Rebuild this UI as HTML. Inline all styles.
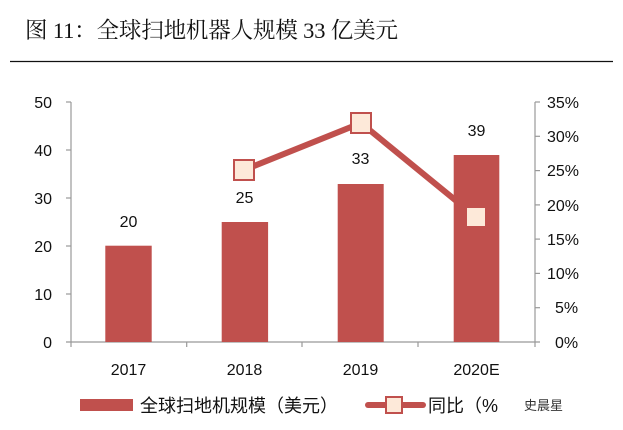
<!DOCTYPE html>
<html><head><meta charset="utf-8"><style>
html,body{margin:0;padding:0;background:#fff;}
svg{display:block;font-family:"Liberation Sans","Noto Sans CJK SC",sans-serif;}
</style></head><body>
<svg width="623" height="430" viewBox="0 0 623 430">
<text x="25" y="38" font-size="22.5" font-family="Liberation Serif,Noto Serif CJK SC,serif" fill="#111" textLength="373">图 11：全球扫地机器人规模 33 亿美元</text>
<line x1="10" y1="61.5" x2="613" y2="61.5" stroke="#111" stroke-width="1.3"/>
<g stroke="#999" stroke-width="1.2" fill="none">
<line x1="71" y1="102" x2="71" y2="342"/>
<line x1="535" y1="102" x2="535" y2="342"/>
<line x1="66" y1="342" x2="540" y2="342"/>
<line x1="66" y1="102" x2="71" y2="102"/><line x1="66" y1="150" x2="71" y2="150"/><line x1="66" y1="198" x2="71" y2="198"/><line x1="66" y1="246" x2="71" y2="246"/><line x1="66" y1="294" x2="71" y2="294"/>
<line x1="535" y1="102" x2="540" y2="102"/><line x1="535" y1="136.3" x2="540" y2="136.3"/><line x1="535" y1="170.6" x2="540" y2="170.6"/><line x1="535" y1="204.9" x2="540" y2="204.9"/><line x1="535" y1="239.1" x2="540" y2="239.1"/><line x1="535" y1="273.4" x2="540" y2="273.4"/><line x1="535" y1="307.7" x2="540" y2="307.7"/>
<line x1="186.7" y1="342" x2="186.7" y2="347"/><line x1="302" y1="342" x2="302" y2="347"/><line x1="418" y1="342" x2="418" y2="347"/><line x1="71" y1="342" x2="71" y2="347"/><line x1="535" y1="342" x2="535" y2="347"/>
</g>
<g font-size="16" fill="#111" text-anchor="end">
<text x="52" y="108">50</text><text x="52" y="156">40</text><text x="52" y="204">30</text><text x="52" y="252">20</text><text x="52" y="300">10</text><text x="52" y="348">0</text>
</g>
<g font-size="16" fill="#111">
<text x="547" y="108">35%</text><text x="547" y="142">30%</text><text x="547" y="176">25%</text><text x="547" y="211">20%</text><text x="547" y="245">15%</text><text x="547" y="279">10%</text><text x="555" y="313">5%</text><text x="555" y="348">0%</text>
</g>
<g font-size="16" fill="#111" text-anchor="middle">
<text x="128.5" y="375">2017</text><text x="244.5" y="375">2018</text><text x="360.5" y="375">2019</text><text x="476.5" y="375">2020E</text>
<text x="128.5" y="227">20</text><text x="244.5" y="203">25</text><text x="360.5" y="164">33</text><text x="476.5" y="136">39</text>
</g>
<polyline points="244,170 361,123 476,217" fill="none" stroke="#c0504d" stroke-width="6" stroke-linejoin="round"/>
<g fill="#c0504d">
<rect x="105.3" y="245.7" width="46.4" height="96.3"/>
<rect x="221.7" y="222" width="46.4" height="120"/>
<rect x="337.7" y="184" width="46" height="158"/>
<rect x="453.7" y="155" width="45.6" height="187"/>
</g>
<g fill="#fde9d9" stroke="#c0504d" stroke-width="2">
<rect x="234" y="160" width="20" height="20"/>
<rect x="351" y="113" width="20" height="20"/>
<rect x="466" y="207" width="20" height="20" stroke="#c0504d"/>
</g>
<rect x="80" y="399" width="53" height="12" fill="#c0504d"/>
<text x="140" y="412" font-size="18" fill="#111">全球扫地机规模（美元）</text>
<line x1="368" y1="405" x2="423" y2="405" stroke="#c0504d" stroke-width="6" stroke-linecap="round"/>
<rect x="386" y="397" width="16" height="16" fill="#fde9d9" stroke="#c0504d" stroke-width="2"/>
<text x="428" y="412" font-size="18" fill="#111">同比（%</text>
<text x="524" y="410" font-size="13" fill="#333">史晨星</text>
</svg>
</body></html>
